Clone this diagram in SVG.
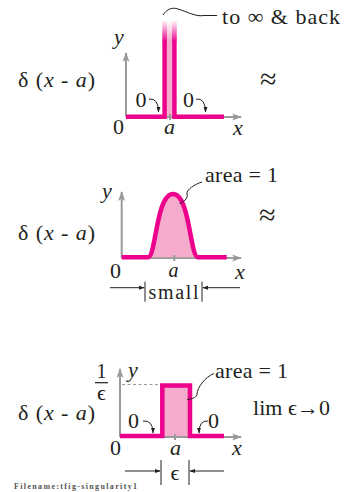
<svg xmlns="http://www.w3.org/2000/svg" width="348" height="492" viewBox="0 0 348 492">
<style>
.t{font-family:'Liberation Serif','DejaVu Serif',serif;font-size:20px;fill:#231f20}
.i{font-style:italic}
.big{font-size:22px}
.ap{font-size:30px}
.ax{stroke:#9a9a9a;stroke-width:2;fill:none}
.tk{stroke:#9a9a9a;stroke-width:2}
.mg{stroke:#ec008c;stroke-width:4.5;fill:none;stroke-linejoin:miter}
.pk{fill:#f5abcb;stroke:none}
.ln{stroke:#231f20;stroke-width:1;fill:none}
.dash{stroke:#9a9a9a;stroke-width:1;stroke-dasharray:3 2.5;fill:none}
</style>
<defs>
<marker id="ga" viewBox="0 0 10 10" refX="9" refY="5" markerWidth="5" markerHeight="5" orient="auto" markerUnits="strokeWidth">
<path d="M0,1.5 L10,5 L0,8.5 L2.5,5 Z" fill="#9a9a9a"/>
</marker>
<marker id="ba" viewBox="0 0 10 10" refX="9" refY="5" markerWidth="6" markerHeight="6" orient="auto" markerUnits="strokeWidth">
<path d="M0,1.5 L10,5 L0,8.5 Z" fill="#231f20"/>
</marker>
<linearGradient id="fm" x1="0" y1="0" x2="0" y2="1">
<stop offset="0" stop-color="#ec008c" stop-opacity="0"/>
<stop offset="1" stop-color="#ec008c" stop-opacity="1"/>
</linearGradient>
<linearGradient id="fp" x1="0" y1="0" x2="0" y2="1">
<stop offset="0" stop-color="#f5abcb" stop-opacity="0"/>
<stop offset="1" stop-color="#f5abcb" stop-opacity="1"/>
</linearGradient>
</defs>

<g id="panel1">
<line class="ax" x1="126" y1="117" x2="126" y2="53" marker-end="url(#ga)"/>
<line class="ax" x1="126" y1="117" x2="241" y2="117" marker-end="url(#ga)"/>
<rect class="pk" x="167" y="42" width="5" height="74"/>
<line class="tk" x1="170" y1="114" x2="170" y2="120"/>
<rect x="162.2" y="20" width="4.8" height="22" fill="url(#fm)"/>
<rect x="172" y="20" width="4.8" height="22" fill="url(#fm)"/>
<rect x="167" y="20" width="5" height="22" fill="url(#fp)"/>
<path class="mg" d="M126,116.7 H164.6 V42"/>
<path class="mg" d="M174.4,42 V116.7 H224"/>
<text class="t i big" x="114" y="44">y</text>
<text class="t big" x="113" y="133.5">0</text>
<text class="t i big" x="164" y="133.5">a</text>
<text class="t i big" x="233" y="135">x</text>
<text class="t big" x="135.5" y="107">0</text>
<text class="t big" x="183" y="107">0</text>
<text class="t big" x="18" y="86.5" textLength="77" lengthAdjust="spacing">δ (<tspan class="i">x</tspan> - <tspan class="i">a</tspan>)</text>
<text class="t ap" x="260" y="89">≈</text>
<text class="t big" x="222" y="24" textLength="118" lengthAdjust="spacing">to ∞ &amp; back</text>
</g>

<g id="panel2">
<line class="ax" x1="121.7" y1="258" x2="121.7" y2="192" marker-end="url(#ga)"/>
<line class="ax" x1="121.7" y1="258" x2="241" y2="258" marker-end="url(#ga)"/>
<path class="pk" d="M148,257.3 C156,257.3 156,194 173,194 C190,194 190,257.3 198,257.3 Z"/>
<line class="tk" x1="174.3" y1="255" x2="174.3" y2="261"/>
<path class="mg" d="M121.7,257.3 H148 C156,257.3 156,194 173,194 C190,194 190,257.3 198,257.3 H226.7"/>
<text class="t i big" x="102" y="197.5">y</text>
<text class="t big" x="110" y="277.5">0</text>
<text class="t i" x="168.5" y="277">a</text>
<text class="t i big" x="235" y="278.5">x</text>
<text class="t big" x="18" y="239.5" textLength="77" lengthAdjust="spacing">δ (<tspan class="i">x</tspan> - <tspan class="i">a</tspan>)</text>
<text class="t ap" x="259" y="225">≈</text>
<text class="t big" x="205" y="181.7" textLength="73" lengthAdjust="spacing">area = 1</text>
<text class="t" x="173.5" y="298.5" text-anchor="middle" textLength="50" lengthAdjust="spacing">small</text>
</g>

<g id="panel3">
<line class="ax" x1="120" y1="437" x2="120" y2="369" marker-end="url(#ga)"/>
<line class="ax" x1="120" y1="437" x2="241" y2="437" marker-end="url(#ga)"/>
<line class="dash" x1="122" y1="384.5" x2="161" y2="384.5"/>
<rect class="pk" x="162.3" y="385.5" width="27.7" height="50.5"/>
<line class="tk" x1="175" y1="434" x2="175" y2="440"/>
<path class="mg" d="M120,436 H162.3 V385.5 H190 V436 H224"/>
<text class="t i big" x="128" y="377">y</text>
<text class="t" x="101.5" y="378.3" text-anchor="middle">1</text>
<line x1="95" y1="382.7" x2="108" y2="382.7" stroke="#231f20" stroke-width="1.2"/>
<text class="t big" x="101.5" y="400" text-anchor="middle">ϵ</text>
<text class="t big" x="215" y="378.3" textLength="73" lengthAdjust="spacing">area = 1</text>
<text class="t big" x="18" y="420" textLength="77" lengthAdjust="spacing">δ (<tspan class="i">x</tspan> - <tspan class="i">a</tspan>)</text>
<text class="t big" x="253" y="415" textLength="77" lengthAdjust="spacing">lim ϵ→0</text>
<text class="t big" x="128" y="427.7">0</text>
<text class="t big" x="208" y="427.7">0</text>
<text class="t big" x="110" y="455">0</text>
<text class="t i big" x="170" y="455">a</text>
<text class="t i big" x="232" y="455">x</text>
<text class="t big" x="175" y="480" text-anchor="middle">ϵ</text>
</g>

<g id="connectors">
<path class="ln" d="M163,15 C167,9 172,7 178,9 C188,12 196,17 204,15.5 L217,15.5"/>
<path class="ln" d="M149,99 Q158.5,98 158.5,112" marker-end="url(#ba)"/>
<path class="ln" d="M196,99 Q205.5,98 205.5,112" marker-end="url(#ba)"/>
<path class="ln" d="M179.5,203.5 C186,201 188,197 187,194 C186,190 195,184 202,182"/>
<line class="ln" x1="145" y1="281.7" x2="145" y2="301.7"/>
<line class="ln" x1="202" y1="281.7" x2="202" y2="301.7"/>
<line class="ln" x1="110" y1="287.7" x2="144" y2="287.7" marker-end="url(#ba)"/>
<line class="ln" x1="240" y1="287.7" x2="203" y2="287.7" marker-end="url(#ba)"/>
<path class="ln" d="M187,399.5 C193,399 197,397 197,394 C197,388 205,377 214,373.5"/>
<path class="ln" d="M143,421 Q153,420 153,433" marker-end="url(#ba)"/>
<path class="ln" d="M208,421 Q199,420 199,433" marker-end="url(#ba)"/>
<line class="ln" x1="161" y1="460" x2="161" y2="485"/>
<line class="ln" x1="189" y1="460" x2="189" y2="485"/>
<line class="ln" x1="125" y1="471" x2="160" y2="471" marker-end="url(#ba)"/>
<line class="ln" x1="224" y1="471" x2="190" y2="471" marker-end="url(#ba)"/>
</g>

<text x="14" y="489" style="font-family:'Liberation Serif','DejaVu Serif',serif;font-size:8px;font-weight:bold;fill:#555" textLength="123" lengthAdjust="spacing">Filename:tfig-singularity1</text>
</svg>
